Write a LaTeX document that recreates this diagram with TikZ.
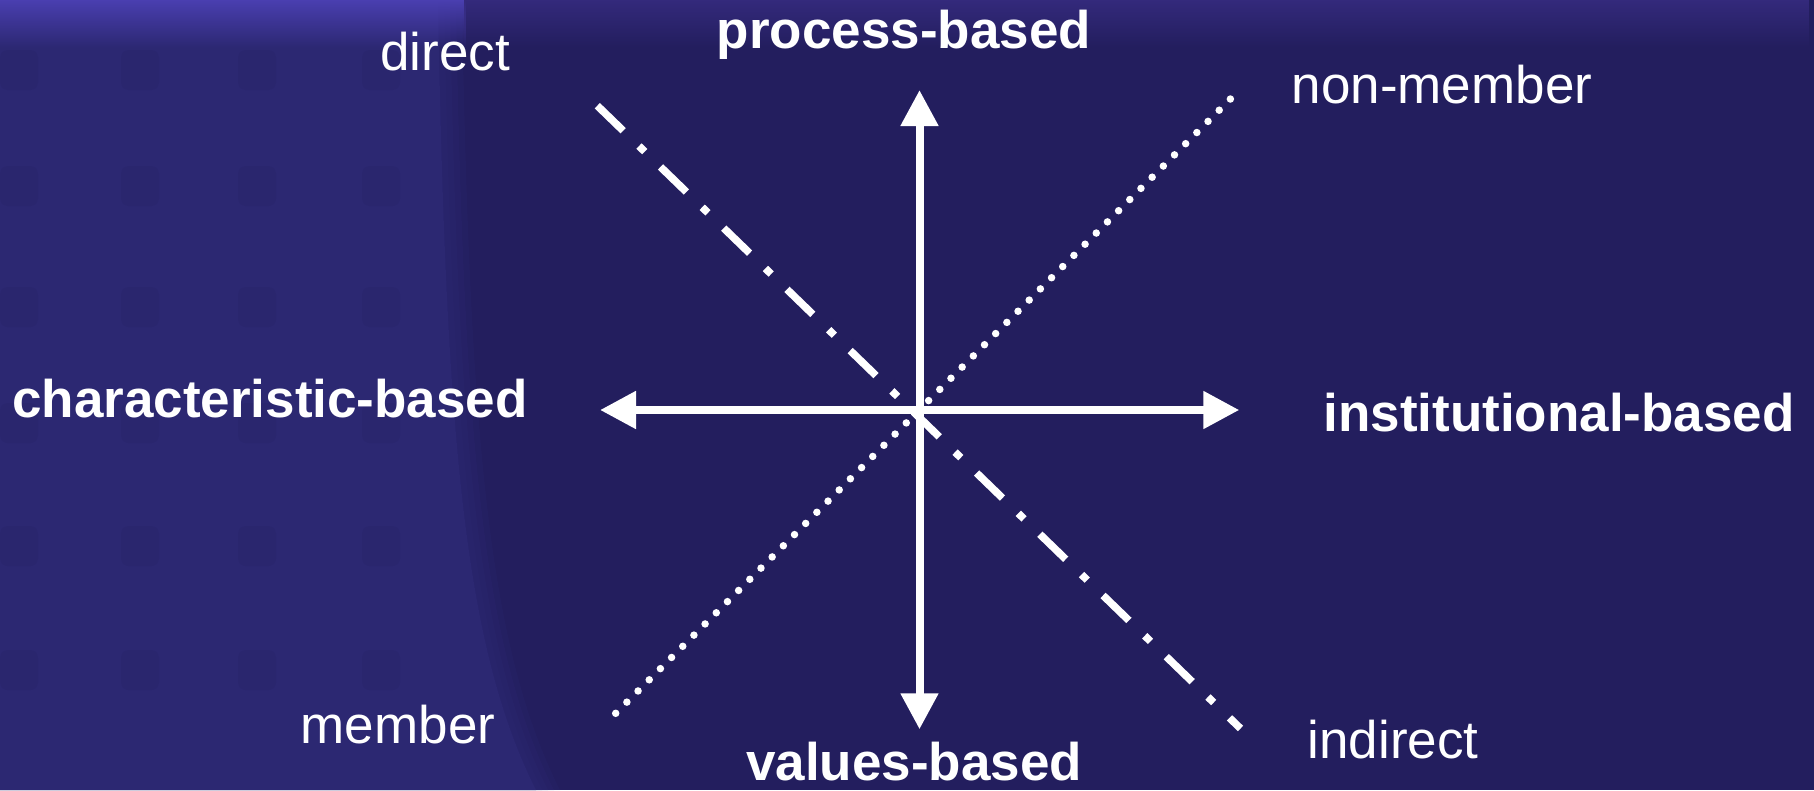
\documentclass[tikz,border=0pt]{standalone}
\usepackage{fontspec}
\setmainfont{Liberation Sans}
\usetikzlibrary{arrows.meta,fadings}

\definecolor{bgnavy}{RGB}{35,30,94}
\definecolor{bgleft}{RGB}{44,40,114}
\definecolor{bgtile}{RGB}{42,38,110}
\definecolor{bgtopl}{RGB}{74,63,176}
\definecolor{bgtopr}{RGB}{52,42,124}

\tikzfading[name=fadedown, top color=transparent!0, bottom color=transparent!100]

\tikzset{
  axis/.style={draw=white, line width=8pt, {Triangle[length=36pt,width=36pt]}-{Triangle[length=36pt,width=36pt]}},
  dashdotline/.style={draw=white, line width=7.5pt, dash pattern=on 36pt off 22pt on 8pt off 22pt},
  dotline/.style={draw=white, line width=7.5pt, line cap=round, dash pattern=on 0pt off 15.8pt},
  lbl/.style={text=white, inner sep=0pt, anchor=base, font=\fontsize{53}{60}\selectfont},
  blbl/.style={lbl, font=\fontsize{53}{60}\selectfont\bfseries},
}

\begin{document}
\begin{tikzpicture}[x=1pt,y=1pt,yscale=-1,xscale=1]

\useasboundingbox (0,0) rectangle (1814,790);

% background
\fill[bgnavy] (0,0) rectangle (1814,790);
\foreach \s/\o in {-24/1,-18/0.35,-12/0.3,-6/0.25,0/0.2}
  \fill[bgleft, fill opacity=\o, xshift=\s] (0,0) -- (462,0) .. controls (470,450) and (490,650) .. (560,790) -- (0,790) -- cycle;
\foreach \x in {19,140,257,381}
  \foreach \y in {70,186,307,423,546,670}
    \fill[bgtile, rounded corners=8] (\x-19,\y-20) rectangle +(38,40);
\fill[bgtopl, path fading=fadedown] (0,0) rectangle (466,48);
\fill[bgtopr, path fading=fadedown] (466,0) rectangle (1814,48);

% axes
\coordinate (top) at (919.5,90);
\coordinate (bot) at (919.5,729.3);
\coordinate (lft) at (600,410);
\coordinate (rgt) at (1239.3,410);
\coordinate (dirend) at (597.3,105.7);
\coordinate (indend) at (1240.5,728.5);
\coordinate (memend) at (615.7,713.3);
\coordinate (nonend) at (1236.7,92.7);

\draw[dashdotline] (dirend) -- (indend);
\draw[dotline] (memend) -- (nonend);
\draw[axis] (top) -- (bot);
\draw[axis] (lft) -- (rgt);

% labels
\node[blbl] (process) at (904,48) {process-based};
\node[blbl] (values) at (914,780) {values-based};
\node[blbl] (charac) at (270,417) {characteristic-based};
\node[blbl] (instit) at (1559,431) {institutional-based};
\node[lbl] (direct) at (445,70) {direct};
\node[lbl] (indirect) at (1393,758) {indirect};
\node[lbl] (member) at (398,743) {member};
\node[lbl] (nonmember) at (1442,103) {non-member};

\end{tikzpicture}
\end{document}
